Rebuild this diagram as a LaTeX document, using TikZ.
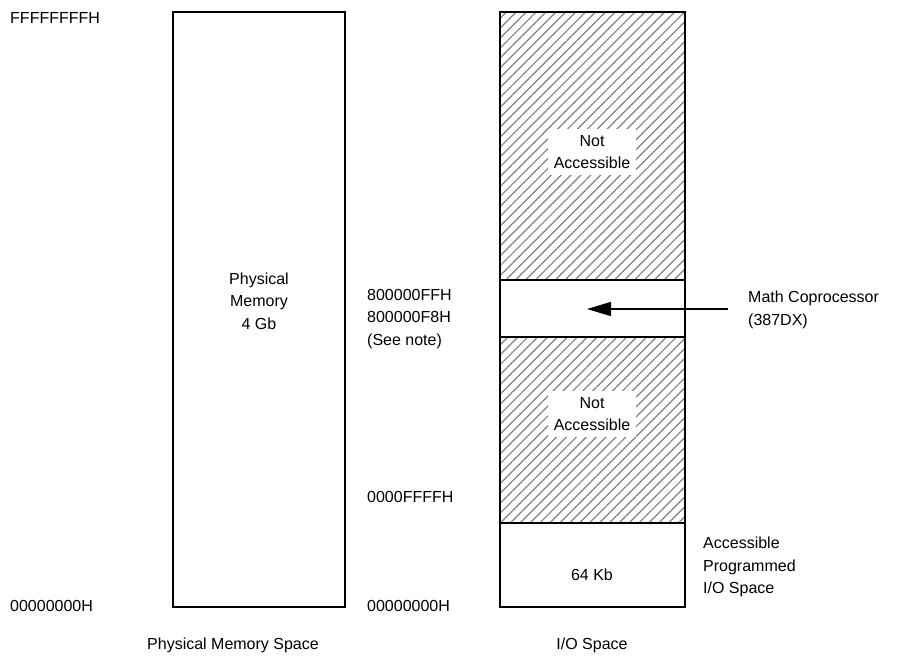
\documentclass[tikz,border=0pt]{standalone}
\usepackage{fontspec}
\setmainfont{Liberation Sans}
\usetikzlibrary{arrows.meta, positioning, patterns.meta}

\begin{document}
\begin{tikzpicture}[x=1pt, y=-1pt,
        lbl/.style={inner sep=0pt, font=\fontsize{16}{22.5}\selectfont, align=center},
        addr/.style={lbl, anchor=west, align=left},
        frame/.style={draw, line width=1.6pt},
        hatch/.style={pattern={Lines[angle=45, distance=7pt, line width=1.2pt]}, pattern color=black!50},
        clear/.style={lbl, fill=white, inner sep=6pt},
        line/.style={-{Triangle[length=24pt, width=14pt]}, line width=1.6pt}
    ]
        \useasboundingbox (0,0) rectangle (906,657);
        % physical memory space
        \draw [frame] (173,12) rectangle (345,607);
        \node (phys) [lbl] at (259,301) {Physical\\Memory\\4 Gb};
        \node (ftop) [addr] at (10,18) {FFFFFFFFH};
        \node (fbot) [addr] at (10,606) {00000000H};
        \node (physcap) [lbl] at (233,645) {Physical Memory Space};

        % I/O space
        \fill [hatch] (500,12) rectangle (685,280);
        \fill [hatch] (500,337) rectangle (685,523);
        \draw [frame] (500,12) rectangle (685,607);
        \draw [frame] (500,280) -- (685,280);
        \draw [frame] (500,337) -- (685,337);
        \draw [frame] (500,523) -- (685,523);
        \node (na1) [clear] at (592,152) {Not\\Accessible};
        \node (na2) [clear] at (592,414) {Not\\Accessible};
        \node (kb) [lbl] at (592,575) {64 Kb};
        \node (ioaddr) [addr] at (367,319) {800000FFH\\800000F8H\\(See note)};
        \node (lowtop) [addr] at (367,497) {0000FFFFH};
        \node (lowbot) [addr] at (367,606) {00000000H};
        \node (math) [addr] at (748,310) {Math Coprocessor\\(387DX)};
        \node (acc) [addr] at (703,567) {Accessible\\Programmed\\I/O Space};
        \node (iocap) [lbl] at (592,645) {I/O Space};
        \coordinate (tip) at (587,309);

        \draw [line] ([xshift=-20pt]math.west |- tip) -- (tip);
    \end{tikzpicture}
\end{document}
